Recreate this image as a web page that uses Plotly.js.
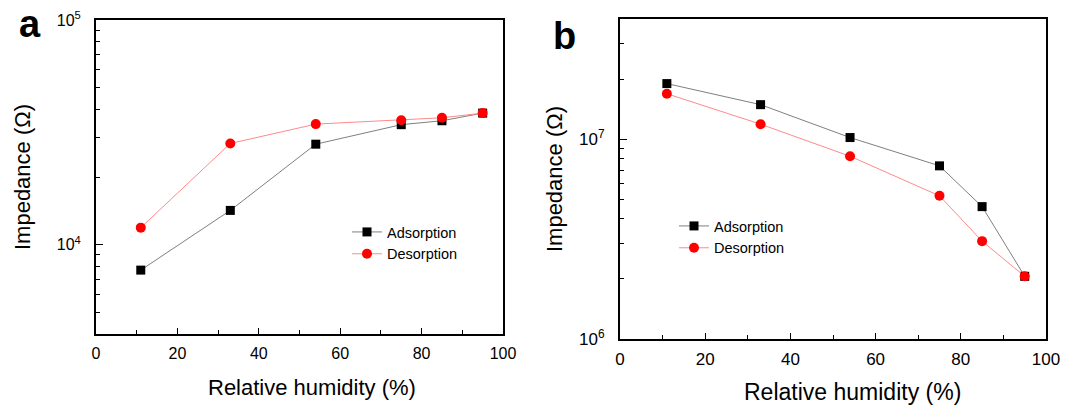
<!DOCTYPE html>
<html>
<head>
<meta charset="utf-8">
<script src="https://cdn.plot.ly/plotly-3.0.1.min.js"></script>
<style>
html,body{margin:0;padding:0;background:#fff;}
#chart{width:1069px;height:406px;}
</style>
</head>
<body>
<div id="chart"></div>
<script>
// ---- data ----
const humidity = [11, 33, 54, 75, 85, 95];
// panel a (Ω)
const adsorptionA = [7700, 14200, 28000, 34200, 35600, 38500];
const desorptionA = [11900, 28200, 34400, 35800, 36700, 38500];
// panel b (Ω)
const adsorptionB = [1.9e7, 1.49e7, 1.02e7, 7.36e6, 4.6e6, 2.06e6];
const desorptionB = [1.69e7, 1.19e7, 8.22e6, 5.21e6, 3.09e6, 2.06e6];
// tick labels
const xTicks = [0, 20, 40, 60, 80, 100];
const yTickValsA = [1e4, 1e5];
const yTickTextA = ['10<sup>4</sup>', '10<sup>5</sup>'];
const yMinorA = [5e3, 6e3, 7e3, 8e3, 9e3, 2e4, 3e4, 4e4, 5e4, 6e4, 7e4, 8e4, 9e4];
const yTickValsB = [1e6, 1e7];
const yTickTextB = ['10<sup>6</sup>', '10<sup>7</sup>'];
const yMinorB = [2e6, 3e6, 4e6, 5e6, 6e6, 7e6, 8e6, 9e6, 2e7, 3e7];
const seriesNames = ['Adsorption', 'Desorption'];

const W = 1069, H = 406;
const px = v => v / W;
const py = v => 1 - v / H;
const FONT = 'Liberation Sans, Arial, sans-serif';

const adsStyle = {mode: 'lines+markers', line: {color: '#7f7f7f', width: 1},
  marker: {symbol: 'square', size: 9, color: '#000000'}};
const desStyle = {mode: 'lines+markers', line: {color: '#ff8a8a', width: 1},
  marker: {symbol: 'circle', size: 10, color: '#ff0000'}};

const traces = [
  Object.assign({x: humidity, y: adsorptionA, name: seriesNames[0], xaxis: 'x', yaxis: 'y', legend: 'legend'}, adsStyle),
  Object.assign({x: humidity, y: desorptionA, name: seriesNames[1], xaxis: 'x', yaxis: 'y', legend: 'legend'}, desStyle),
  Object.assign({x: humidity, y: adsorptionB, name: seriesNames[0], xaxis: 'x2', yaxis: 'y2', legend: 'legend2'}, adsStyle),
  Object.assign({x: humidity, y: desorptionB, name: seriesNames[1], xaxis: 'x2', yaxis: 'y2', legend: 'legend2'}, desStyle)
];

function xAxis(domain, anchor, fs) {
  return {domain: domain, anchor: anchor, range: [0, 100], tickvals: xTicks,
    ticks: 'inside', ticklen: 6, tickwidth: 1, tickcolor: '#000',
    minor: {dtick: 10, ticks: 'inside', ticklen: 4, tickwidth: 1, tickcolor: '#000'},
    showline: true, linecolor: '#000', linewidth: 2, mirror: true,
    showgrid: false, zeroline: false, ticklabelstandoff: 4,
    tickfont: {family: FONT, size: fs, color: '#000'}};
}
function yAxis(domain, anchor, range, tv, tt, minor, fs, title, standoff) {
  return {domain: domain, anchor: anchor, type: 'log', range: range,
    tickmode: 'array', tickvals: tv, ticktext: tt,
    ticks: 'inside', ticklen: 7, tickwidth: 1, tickcolor: '#000',
    minor: {tickmode: 'array', tickvals: minor, ticks: 'inside', ticklen: 4, tickwidth: 1, tickcolor: '#000'},
    showline: true, linecolor: '#000', linewidth: 2, mirror: true,
    showgrid: false, zeroline: false, ticklabelstandoff: 10,
    tickfont: {family: FONT, size: fs, color: '#000'},
    title: {text: title, font: {family: FONT, size: 22, color: '#000'}, standoff: standoff}};
}

const layout = {
  width: W, height: H,
  margin: {l: 0, r: 0, t: 0, b: 0},
  paper_bgcolor: '#fff', plot_bgcolor: '#fff',
  font: {family: FONT, color: '#000'},
  xaxis: xAxis([px(96), px(503)], 'y', 16),
  yaxis: yAxis([py(334), py(20)], 'x', [Math.log10(4000), 5], yTickValsA, yTickTextA, yMinorA, 16, 'Impedance (Ω)', 20),
  xaxis2: xAxis([px(620), px(1046)], 'y2', 17),
  yaxis2: yAxis([py(339), py(19)], 'x2', [6, Math.log10(4e7)], yTickValsB, yTickTextB, yMinorB, 17, 'Impedance (Ω)', 10),
  legend: {x: px(347), y: py(216), xanchor: 'left', yanchor: 'top', bgcolor: 'rgba(0,0,0,0)',
    font: {family: FONT, size: 14.5, color: '#000'}, tracegroupgap: 0, itemwidth: 30},
  legend2: {x: px(674), y: py(210), xanchor: 'left', yanchor: 'top', bgcolor: 'rgba(0,0,0,0)',
    font: {family: FONT, size: 14.5, color: '#000'}, tracegroupgap: 0, itemwidth: 30},
  annotations: [
    {text: '<b>a</b>', xref: 'paper', yref: 'paper', x: px(30), y: py(24), showarrow: false,
      font: {family: FONT, size: 38, color: '#000'}, xanchor: 'center', yanchor: 'middle'},
    {text: '<b>b</b>', xref: 'paper', yref: 'paper', x: px(564), y: py(36), showarrow: false,
      font: {family: FONT, size: 38, color: '#000'}, xanchor: 'center', yanchor: 'middle'},
    {text: 'Relative humidity (%)', xref: 'paper', yref: 'paper', x: px(312), y: py(387), showarrow: false,
      font: {family: FONT, size: 22, color: '#000'}, xanchor: 'center', yanchor: 'middle'},
    {text: 'Relative humidity (%)', xref: 'paper', yref: 'paper', x: px(852), y: py(392), showarrow: false,
      font: {family: FONT, size: 23, color: '#000'}, xanchor: 'center', yanchor: 'middle'}
  ],
  showlegend: true
};

Plotly.newPlot('chart', traces, layout, {displayModeBar: false, staticPlot: true});
</script>
</body>
</html>
